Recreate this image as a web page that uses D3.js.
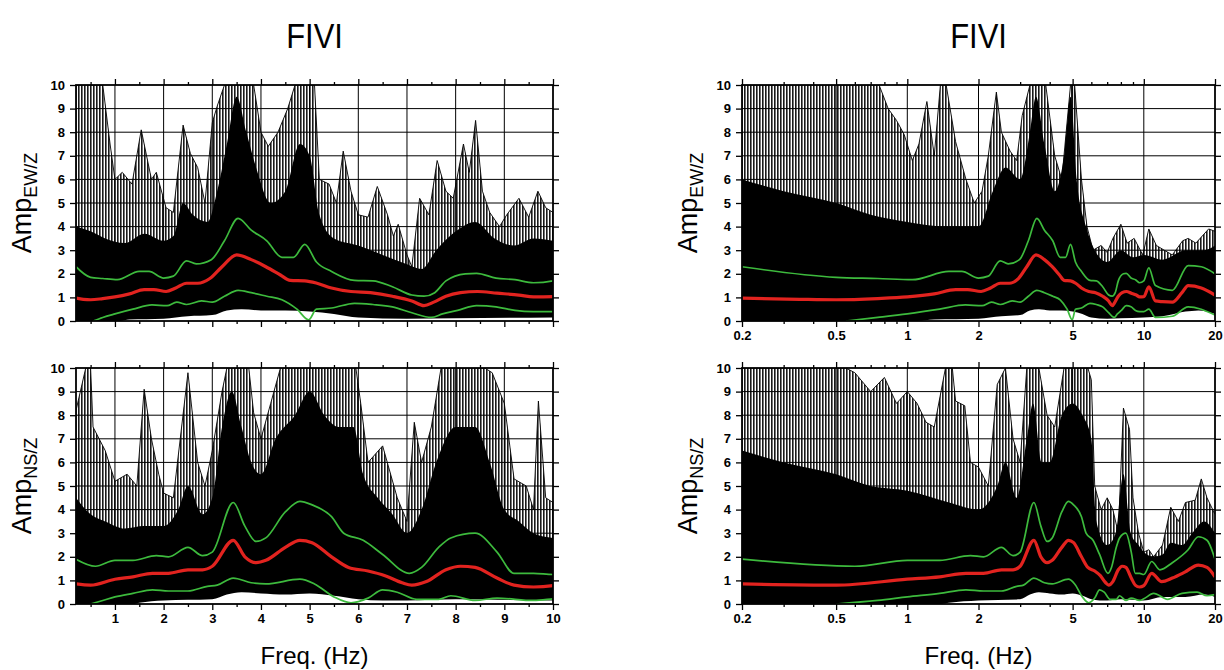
<!DOCTYPE html>
<html>
<head>
<meta charset="utf-8">
<script src="https://cdn.jsdelivr.net/npm/d3@7"></script>
<style>
body { margin: 0; background: #fff; }
text { font-family: "Liberation Sans", Arial, sans-serif; }
</style>
</head>
<body>
<div id="chart"></div>
<script>
// [freq (Hz), amplitude ratio]

// EW/Z: mean, mean+std, mean-std
const ewMean = [[0.2,0.97],[0.35,0.92],[0.5,0.9],[0.75,0.95],[1.0,1.02],[1.3,1.15],[1.6,1.33],[1.8,1.33],[2.05,1.25],[2.25,1.4],[2.47,1.6],[2.7,1.6],[2.95,1.8],[3.2,2.3],[3.5,2.8],[3.8,2.6],[4.1,2.3],[4.4,1.95],[4.6,1.72],[4.9,1.7],[5.15,1.6],[5.45,1.4],[5.85,1.25],[6.25,1.2],[6.7,1.05],[7.1,0.85],[7.35,0.65],[7.55,0.8],[7.8,1.05],[8.1,1.2],[8.45,1.25],[8.85,1.18],[9.3,1.1],[9.6,1.02],[10,1.03],[10.5,1.45],[11.2,0.85],[12,0.82],[13.2,0.8],[14.5,1.2],[15.4,1.5],[17.5,1.4],[20,1.1]];
const ewUp = [[0.2,2.3],[0.5,1.85],[0.75,1.8],[1.05,1.75],[1.5,2.1],[1.7,2.1],[2.0,1.82],[2.2,1.9],[2.47,2.55],[2.67,2.42],[2.98,2.6],[3.25,3.4],[3.53,4.35],[3.8,3.85],[4.12,3.4],[4.43,2.7],[4.67,2.7],[4.9,3.25],[5.14,2.5],[5.45,2.1],[5.92,1.72],[6.3,1.7],[6.7,1.45],[7.1,1.1],[7.35,1.05],[7.57,1.2],[7.8,1.7],[8.2,2.0],[8.43,2.02],[8.83,1.82],[9.22,1.75],[9.6,1.62],[10,1.7],[10.5,2.25],[11.2,1.5],[13.2,1.3],[15.4,2.35],[17.5,2.3],[20,2.0]];
const ewLo = [[0.55,0],[0.75,0.15],[1.0,0.3],[1.37,0.5],[1.76,0.68],[2.07,0.65],[2.27,0.8],[2.47,0.7],[2.78,0.85],[3.0,0.8],[3.25,1.05],[3.53,1.3],[3.8,1.2],[4.12,1.05],[4.43,0.9],[4.74,0.5],[4.98,0.05],[5.14,0.5],[5.45,0.55],[5.92,0.75],[6.3,0.7],[6.7,0.6],[7.1,0.35],[7.5,0.15],[7.73,0.3],[8.04,0.45],[8.43,0.65],[8.83,0.6],[9.22,0.45],[9.6,0.4],[10,0.4],[10.5,0.5],[11.2,0.15],[13.2,0.2],[15.4,0.6],[17.5,0.5],[20,0.25]];

// NS/Z: mean, mean+std, mean-std
const nsMean = [[0.2,0.85],[0.5,0.8],[1.0,1.05],[1.37,1.15],[1.77,1.3],[2.1,1.3],[2.5,1.45],[2.8,1.45],[3.0,1.6],[3.43,2.7],[3.67,2.0],[3.9,1.75],[4.1,1.85],[4.5,2.4],[4.8,2.7],[5.05,2.6],[5.45,2.0],[5.8,1.55],[6.2,1.4],[6.55,1.2],[6.9,0.9],[7.1,0.8],[7.4,0.95],[7.8,1.45],[8.1,1.6],[8.4,1.55],[8.85,1.1],[9.2,0.8],[9.6,0.72],[10,0.78],[10.8,1.3],[11.9,0.95],[13.2,1.1],[14.9,1.35],[17,1.65],[18.5,1.55],[20,1.15]];
const nsUp = [[0.2,1.9],[0.6,1.6],[1.0,1.85],[1.37,1.85],[1.85,2.05],[2.1,2.0],[2.5,2.4],[2.8,2.05],[3.0,2.2],[3.43,4.3],[3.67,3.3],[3.9,2.65],[4.1,2.8],[4.5,3.9],[4.8,4.35],[5.05,4.2],[5.45,3.7],[5.7,3.0],[6.1,2.7],[6.5,2.1],[7.05,1.3],[7.3,1.55],[7.65,2.4],[7.9,2.8],[8.4,3.0],[8.85,2.2],[9.2,1.3],[9.6,1.3],[10,1.25],[10.8,1.8],[11.7,1.45],[13.2,1.75],[15.4,2.3],[17,2.85],[18.5,2.7],[20,1.9]];
const nsLo = [[0.5,0],[0.75,0.15],[1.0,0.3],[1.37,0.45],[1.77,0.6],[2.1,0.55],[2.5,0.55],[2.9,0.75],[3.1,0.8],[3.43,1.1],[3.8,0.9],[4.1,0.85],[4.8,1.05],[5.1,0.85],[5.5,0.3],[5.85,0.05],[6.2,0.25],[6.5,0.6],[6.8,0.5],[7.2,0.2],[7.65,0.2],[7.9,0.35],[8.4,0.15],[8.85,0.25],[9.6,0.15],[10,0.22],[11,0.45],[12.6,0.2],[14.5,0.45],[16.8,0.5],[18.5,0.35],[20,0.4]];

// lowest of all single-window curves (white gap at the bottom)
const ewFloor = [[0.2,0],[1.1,0],[1.3,0.06],[2,0.1],[2.5,0.2],[3,0.25],[3.3,0.45],[3.6,0.5],[4,0.45],[4.5,0.45],[5,0.4],[5.5,0.3],[6,0.15],[7,0.1],[8,0.12],[10,0.15],[12,0.2],[15,0.4],[17,0.45],[20,0.3]];
const nsFloor = [[0.2,0],[1.4,0],[1.5,0.05],[2,0.15],[3,0.2],[3.3,0.4],[3.6,0.5],[4,0.45],[4.5,0.4],[5,0.45],[5.5,0.35],[6,0.2],[6.5,0.15],[7,0.15],[8,0.2],[10,0.15],[12,0.3],[15,0.3],[18,0.4],[20,0.3]];

// top of the solid black bundle / highest single curves, per panel
const ewLinDense = [[0.2,4.0],[0.5,3.8],[0.8,3.5],[1.2,3.3],[1.6,3.7],[2.0,3.4],[2.2,3.6],[2.4,5.0],[2.6,4.5],[2.9,4.2],[3.1,5.5],[3.3,7.5],[3.5,9.5],[3.7,8.0],[3.9,6.5],[4.2,5.0],[4.5,5.5],[4.8,7.5],[5.0,7.0],[5.2,4.5],[5.5,3.5],[6.0,3.2],[6.5,2.8],[7.0,2.4],[7.3,2.2],[7.6,3.0],[8.0,3.8],[8.4,4.2],[8.8,3.5],[9.2,3.2],[9.6,3.5],[10,3.4]];
const ewLinMax = [[0.2,10],[0.6,10],[0.75,10],[0.9,7.5],[1.0,6.0],[1.15,6.3],[1.35,5.8],[1.54,8.1],[1.75,6.0],[1.85,6.3],[2.05,4.8],[2.2,4.6],[2.4,8.3],[2.55,7.1],[2.7,6.5],[2.85,5.0],[3.0,8.4],[3.1,9.1],[3.25,10],[3.85,10],[4.0,8.0],[4.15,7.4],[4.35,8.0],[4.55,9.0],[4.7,10],[5.1,10],[5.2,6.0],[5.4,5.8],[5.55,5.0],[5.69,7.2],[5.85,5.5],[6.0,4.5],[6.2,4.4],[6.39,5.7],[6.6,4.5],[6.72,3.6],[6.82,4.1],[7.0,2.8],[7.1,2.3],[7.26,5.2],[7.45,4.5],[7.62,6.8],[7.8,5.5],[7.95,5.2],[8.16,7.5],[8.28,6.3],[8.41,8.5],[8.55,5.5],[8.7,4.6],[8.9,4.0],[9.05,4.5],[9.3,5.2],[9.5,4.4],[9.69,5.5],[9.85,4.8],[10,4.6]];
const ewLogDense = [[0.2,6.0],[0.3,5.5],[0.5,5.0],[0.7,4.5],[1.0,4.2],[1.5,4.0],[2.0,4.0],[2.3,5.5],[2.6,6.5],[3.0,6.0],[3.3,8.0],[3.5,9.5],[3.8,7.5],[4.2,5.5],[4.6,7.0],[4.9,9.5],[5.2,6.0],[5.7,4.0],[6.2,3.0],[7.0,2.5],[8.0,3.0],[9.0,2.7],[10,2.8],[12,2.6],[15,3.0],[18,3.0],[20,3.2]];
const ewLogMax = [[0.2,10],[0.76,10],[0.83,9.0],[0.9,8.5],[0.97,7.9],[1.05,6.8],[1.12,7.5],[1.21,9.3],[1.3,7.0],[1.38,10],[1.46,10],[1.6,7.6],[1.77,6.0],[1.92,5.0],[2.07,5.5],[2.2,7.0],[2.38,9.7],[2.5,8.0],[2.72,7.2],[2.9,6.8],[3.06,8.7],[3.3,10],[3.85,10],[4.2,7.0],[4.5,6.0],[4.9,10],[5.1,10],[5.45,6.0],[5.75,4.0],[6.1,3.0],[6.6,3.2],[7.0,2.9],[7.4,3.5],[8.0,4.1],[8.5,3.3],[9.1,3.5],[9.9,2.8],[10.5,3.9],[11.3,3.2],[12.2,3.0],[13.2,2.8],[14.6,3.4],[15.4,3.5],[16.6,3.3],[18.8,3.9],[20,3.8]];
const nsLinDense = [[0.2,4.5],[0.5,3.8],[0.8,3.5],[1.2,3.2],[1.6,3.3],[2.0,3.3],[2.3,4.0],[2.5,5.0],[2.8,3.8],[3.0,4.5],[3.2,7.5],[3.4,9.0],[3.6,7.5],[3.8,6.0],[4.0,5.5],[4.3,7.0],[4.7,8.0],[5.0,9.0],[5.3,8.0],[5.6,7.5],[5.9,7.5],[6.1,5.5],[6.4,4.5],[6.7,3.8],[7.0,3.0],[7.3,4.0],[7.6,6.0],[8.0,7.5],[8.4,7.5],[8.7,6.0],[9.0,4.0],[9.3,3.5],[9.6,3.0],[10,2.8]];
const nsLinMax = [[0.2,8.2],[0.4,10],[0.5,10],[0.55,7.5],[0.8,6.5],[1.0,5.2],[1.25,5.5],[1.45,5.0],[1.6,9.1],[1.75,7.0],[1.9,5.5],[2.0,4.7],[2.2,4.5],[2.5,9.8],[2.7,6.0],[2.85,5.0],[3.0,6.5],[3.2,9.0],[3.3,10],[3.75,10],[3.85,8.1],[4.0,7.0],[4.2,8.5],[4.4,10],[5.95,10],[6.05,8.5],[6.2,6.0],[6.5,6.7],[6.8,4.5],[7.0,3.5],[7.15,7.7],[7.3,6.0],[7.5,7.5],[7.7,10],[8.6,10],[8.75,9.8],[9.0,8.5],[9.2,5.3],[9.45,5.0],[9.6,4.0],[9.7,8.6],[9.85,4.5],[10,4.3]];
const nsLogDense = [[0.2,6.5],[0.3,6.0],[0.5,5.5],[0.7,5.0],[1.0,4.8],[1.5,4.3],[2.0,4.0],[2.4,5.0],[2.6,6.0],[2.9,4.5],[3.2,7.0],[3.4,8.5],[3.7,6.0],[4.0,6.0],[4.5,8.0],[5.0,8.5],[5.5,8.0],[6.0,7.0],[6.3,3.5],[7.0,2.5],[7.6,3.0],[8.2,5.5],[8.8,3.0],[9.5,2.5],[10,2.2],[11,2.0],[12,2.1],[13,2.6],[14.5,2.5],[16,3.0],[18,3.5],[20,3.0]];
const nsLogMax = [[0.2,10],[0.55,10],[0.6,9.8],[0.7,9.0],[0.8,9.6],[0.9,8.5],[1.0,9.0],[1.1,8.5],[1.2,7.7],[1.3,7.5],[1.45,10],[1.55,10],[1.6,8.6],[1.75,8.4],[1.85,6.0],[2.0,5.8],[2.2,5.0],[2.4,9.3],[2.6,10],[2.8,7.0],[3.0,6.0],[3.2,10],[3.6,10],[3.9,8.0],[4.2,7.5],[4.6,10],[5.8,10],[6.0,9.5],[6.2,5.0],[6.6,4.0],[7.0,4.5],[7.4,4.0],[7.8,3.0],[8.2,8.3],[8.7,7.4],[9.0,4.5],[9.5,3.0],[10,2.2],[10.5,2.3],[11,2.0],[12,2.5],[13,4.1],[14,3.5],[15,4.3],[16.5,4.4],[17.5,5.3],[18.5,4.5],[20,3.8]];

// axes
const ampTicks = d3.range(0, 11);
const linMajor = d3.range(1, 11);
const linMinor = d3.range(0.5, 10, 1);
const linGrid = d3.range(1, 10);
const logMajor = [0.2, 0.5, 1, 2, 5, 10, 20];
const logMinor = [0.3, 0.4, 0.6, 0.7, 0.8, 0.9, 3, 4, 6, 7, 8, 9];
const logGrid = [0.5, 1, 2, 5, 10];
const title = 'FIVI';

const svg = d3.select('#chart').append('svg').attr('width', 1224).attr('height', 670);

// thin vertical hatching, looks like many overlapping curves
const pat = svg.append('defs').append('pattern').attr('id', 'traces')
  .attr('patternUnits', 'userSpaceOnUse').attr('width', 3).attr('height', 6);
pat.append('rect').attr('width', 3).attr('height', 6).attr('fill', '#fff');
pat.append('rect').attr('width', 1.6).attr('height', 6).attr('fill', '#000');

const cols = [{x0: 76, x1: 553, log: false}, {x0: 742, x1: 1215, log: true}];
const rows = [
  {y0: 85, y1: 321, comp: 'EW', mean: ewMean, up: ewUp, lo: ewLo, floor: ewFloor, dense: [ewLinDense, ewLogDense], max: [ewLinMax, ewLogMax]},
  {y0: 368, y1: 604, comp: 'NS', mean: nsMean, up: nsUp, lo: nsLo, floor: nsFloor, dense: [nsLinDense, nsLogDense], max: [nsLinMax, nsLogMax]}
];

const red = '#e2231f', green = '#3dba3d';

cols.forEach(function(c, ci) {
  // title
  svg.append('text').attr('transform', 'translate(' + ((c.x0 + c.x1) / 2) + ',48) scale(0.86,1)')
    .attr('text-anchor', 'middle').style('font-size', '36px').text(title);

  rows.forEach(function(r, ri) {
    const x = c.log ? d3.scaleLog().domain([0.2, 20]).range([c.x0, c.x1])
                    : d3.scaleLinear().domain([0.2, 10]).range([c.x0, c.x1]);
    const y = d3.scaleLinear().domain([0, 10]).range([r.y1, r.y0]);
    const id = 'clip' + ci + ri;
    svg.append('clipPath').attr('id', id).append('rect')
      .attr('x', c.x0).attr('y', r.y0).attr('width', c.x1 - c.x0).attr('height', r.y1 - r.y0);

    const g = svg.append('g');
    const p = g.append('g').attr('clip-path', 'url(#' + id + ')');

    const area = d3.area().x(d => x(d[0])).y0(y(0)).y1(d => y(d[1]));
    const line = d3.line().x(d => x(d[0])).y(d => y(d[1]));
    const smooth = d3.line().x(d => x(d[0])).y(d => y(d[1])).curve(d3.curveMonotoneX);

    // sparse high curves
    p.append('path').datum(r.max[ci]).attr('d', area)
      .attr('fill', 'url(#traces)').attr('fill-opacity', 0.9);
    p.append('path').datum(r.max[ci]).attr('d', line)
      .attr('fill', 'none').attr('stroke', '#000').attr('stroke-width', 0.9);

    // grid
    p.selectAll('.hg').data(ampTicks.slice(1, 10)).join('line')
      .attr('x1', c.x0).attr('x2', c.x1).attr('y1', d => y(d)).attr('y2', d => y(d))
      .attr('stroke', '#000').attr('stroke-width', 1);
    p.selectAll('.vg').data(c.log ? logGrid : linGrid).join('line')
      .attr('y1', r.y0).attr('y2', r.y1).attr('x1', d => x(d)).attr('x2', d => x(d))
      .attr('stroke', '#000').attr('stroke-width', 1);

    // solid bundle
    p.append('path').datum(r.dense[ci]).attr('d', area.curve(d3.curveMonotoneX)).attr('fill', '#000');
    // white gap at the bottom
    p.append('path').datum(r.floor).attr('d', area).attr('fill', '#fff');

    p.append('path').datum(r.up).attr('d', smooth)
      .attr('fill', 'none').attr('stroke', green).attr('stroke-width', 1.7);
    p.append('path').datum(r.lo).attr('d', smooth)
      .attr('fill', 'none').attr('stroke', green).attr('stroke-width', 1.7);
    p.append('path').datum(r.mean).attr('d', smooth)
      .attr('fill', 'none').attr('stroke', red).attr('stroke-width', 3.2);

    // frame
    g.append('rect').attr('x', c.x0).attr('y', r.y0).attr('width', c.x1 - c.x0).attr('height', r.y1 - r.y0)
      .attr('fill', 'none').attr('stroke', '#000').attr('stroke-width', 1.8);

    const major = c.log ? logMajor : linMajor;
    const minor = c.log ? logMinor : linMinor;
    const showX = ri === 1 || c.log;
    const fmt = d => String(d);

    function style(sel) {
      sel.select('.domain').remove();
      sel.selectAll('line').attr('stroke', '#000').attr('stroke-width', 1.3);
      sel.selectAll('text').style('font-family', '"Liberation Sans", Arial, sans-serif')
        .style('font-size', '13px').style('font-weight', 'bold').attr('fill', '#000');
    }

    g.append('g').attr('transform', 'translate(0,' + r.y1 + ')')
      .call(d3.axisBottom(x).tickValues(major).tickSize(6).tickPadding(4).tickFormat(showX ? fmt : '')).call(style);
    g.append('g').attr('transform', 'translate(0,' + r.y1 + ')')
      .call(d3.axisBottom(x).tickValues(minor).tickSize(3).tickFormat('')).call(style);
    g.append('g').attr('transform', 'translate(0,' + r.y0 + ')')
      .call(d3.axisTop(x).tickValues(major).tickSize(6).tickFormat('')).call(style);
    g.append('g').attr('transform', 'translate(0,' + r.y0 + ')')
      .call(d3.axisTop(x).tickValues(minor).tickSize(3).tickFormat('')).call(style);
    g.append('g').attr('transform', 'translate(' + c.x0 + ',0)')
      .call(d3.axisLeft(y).tickValues(ampTicks).tickSize(6).tickPadding(5).tickFormat(fmt)).call(style);
    g.append('g').attr('transform', 'translate(' + c.x1 + ',0)')
      .call(d3.axisRight(y).tickValues(ampTicks).tickSize(6).tickFormat('')).call(style);

    // y label
    const ly = (r.y0 + r.y1) / 2;
    const lab = g.append('text').attr('transform', 'translate(' + (c.x0 - 45) + ',' + ly + ') rotate(-90)')
      .attr('text-anchor', 'middle').style('font-size', '27px');
    lab.append('tspan').text('Amp');
    lab.append('tspan').attr('dy', 6).style('font-size', '18px').text(r.comp + '/Z');

    if (ri === 1) {
      g.append('text').attr('x', (c.x0 + c.x1) / 2).attr('y', 664)
        .attr('text-anchor', 'middle').style('font-size', '24px').text('Freq. (Hz)');
    }
  });
});
</script>
</body>
</html>
